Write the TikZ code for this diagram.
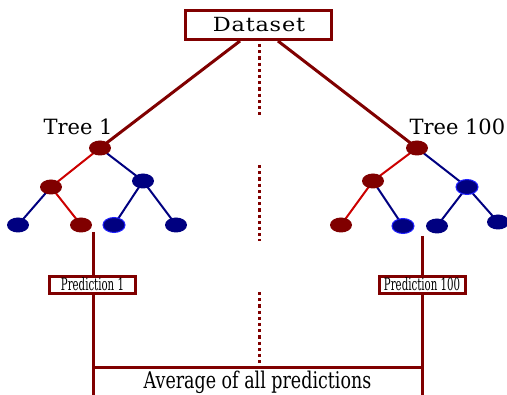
\documentclass[tikz,border=0pt]{standalone}
\usepackage{fontspec}
\usetikzlibrary{shapes.geometric}
\setmainfont{DejaVu Serif}
\newfontfamily\condA[FakeStretch=0.6]{DejaVu Serif}
\newfontfamily\condB[FakeStretch=0.76]{DejaVu Serif}
\newfontfamily\widef[FakeStretch=1.15,LetterSpace=4]{DejaVu Serif}
\definecolor{dred}{HTML}{800000}
\definecolor{tblue}{HTML}{000080}
\definecolor{bred}{HTML}{CC0000}
\definecolor{bblue}{HTML}{2020FF}
\begin{document}
\begin{tikzpicture}[x=1pt,y=-1pt,
  redn/.style={ellipse, fill=dred, minimum width=22pt, minimum height=15pt, inner sep=0pt},
  bluen/.style={ellipse, fill=tblue, minimum width=22pt, minimum height=15pt, inner sep=0pt},
  bluerim/.style={bluen, draw=bblue, line width=1pt},
  rede/.style={draw=bred, line width=2pt},
  bluee/.style={draw=tblue, line width=2pt},
  mainline/.style={draw=dred, line width=3pt},
  boxn/.style={draw=dred, line width=3pt, fill=white, inner sep=0pt},
  dotl/.style={draw=dred, line width=3pt, dash pattern=on 3.3pt off 2.9pt}]
\useasboundingbox (0,0) rectangle (507,395);

% dataset
\node[boxn, minimum width=146pt, minimum height=29pt] (ds) at (258,25) {};
\node[anchor=base, font=\fontsize{19.5}{24}\widef] (dst) at (259,31.5) {Dataset};

% dotted separators
\coordinate (d1a) at (259,44); \coordinate (d1b) at (259,115);
\coordinate (d2a) at (259,165); \coordinate (d2b) at (259,241);
\coordinate (d3a) at (259,292); \coordinate (d3b) at (259,367);
\draw[dotl] (d1a) -- (d1b);
\draw[dotl] (d2a) -- (d2b);
\draw[dotl] (d3a) -- (d3b);

% tree roots
\coordinate (r1) at (100,148);
\coordinate (r2) at (417,148);
\draw[mainline] ([xshift=-18pt]ds.south) -- (r1);
\draw[mainline] ([xshift=20pt]ds.south) -- (r2);

\node[anchor=base west, font=\fontsize{21}{25}\selectfont] (t1) at (40,135) {Tree 1};
\node[anchor=base west, font=\fontsize{21}{25}\selectfont] (t2) at (406,135) {Tree 100};

% tree 1
\coordinate (a) at (100,148);
\coordinate (b) at (51,187);
\coordinate (c) at (143,181);
\coordinate (d) at (18,225);
\coordinate (e) at (81,225);
\coordinate (f) at (114,225);
\coordinate (g) at (176,225);
\draw[rede] (a) -- (b);
\draw[bluee] (a) -- (c);
\draw[bluee] (b) -- (d);
\draw[rede] (b) -- (e);
\draw[bluee] (c) -- (f);
\draw[bluee] (c) -- (g);
\node[redn] (na) at (a) {};
\node[redn] (nb) at (b) {};
\node[bluen] (nc) at (c) {};
\node[bluen] (nd) at (d) {};
\node[redn] (ne) at (e) {};
\node[bluerim] (nf) at (f) {};
\node[bluen] (ng) at (g) {};

% tree 100
\coordinate (h) at (417,148);
\coordinate (i) at (373,181);
\coordinate (j) at (467,187);
\coordinate (k) at (341,225);
\coordinate (l) at (403,226);
\coordinate (m) at (437,226);
\coordinate (n) at (498,222);
\draw[rede] (h) -- (i);
\draw[bluee] (h) -- (j);
\draw[rede] (i) -- (k);
\draw[bluee] (i) -- (l);
\draw[bluee] (j) -- (m);
\draw[bluee] (j) -- (n);
\node[redn] (nh) at (h) {};
\node[redn] (ni) at (i) {};
\node[bluerim] (nj) at (j) {};
\node[redn] (nk) at (k) {};
\node[bluerim] (nl) at (l) {};
\node[bluen] (nm) at (m) {};
\node[bluen] (nn) at (n) {};

% prediction stems
\coordinate (s1) at (93.5,232);
\coordinate (s2) at (422,236);
\coordinate (b1) at (93.5,395);
\coordinate (b2) at (422,395);
\coordinate (h1) at (93.5,368);
\coordinate (h2) at (422,368);
\draw[mainline] (s1) -- (b1);
\draw[mainline] (s2) -- (b2);
\draw[mainline] (h1) -- (h2);

\node[boxn, minimum width=86pt, minimum height=17pt] (p1) at (92.5,285) {};
\node[anchor=base, font=\fontsize{17}{19}\condA] (p1t) at (92.5,291) {Prediction 1};
\node[boxn, minimum width=86pt, minimum height=17pt] (p2) at (422.5,285) {};
\node[anchor=base, font=\fontsize{17}{19}\condA] (p2t) at (422,291) {Prediction 100};

\node[anchor=base, font=\fontsize{23}{27}\condB] (avg) at (257.5,389) {Average of all predictions};
\end{tikzpicture}
\end{document}
